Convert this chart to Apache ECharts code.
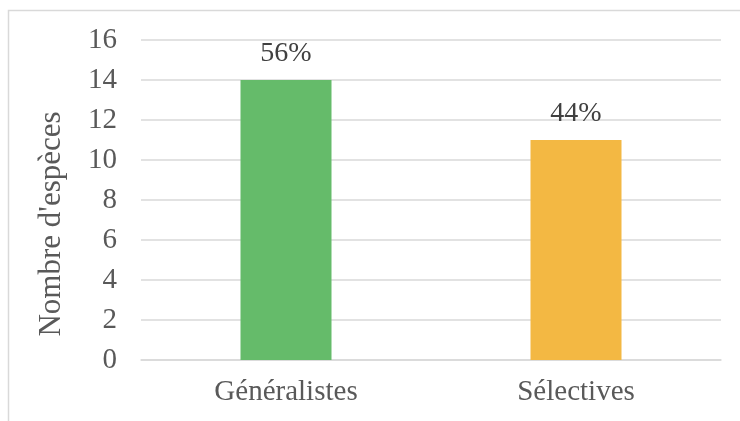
<!DOCTYPE html>
<html>
<head>
<meta charset="utf-8">
<script src="https://cdn.jsdelivr.net/npm/echarts@6/dist/echarts.min.js"></script>
<style>
  html, body { margin: 0; padding: 0; background: #ffffff; }
  #chart { width: 740px; height: 421px; }
</style>
</head>
<body>
<div id="chart"></div>
<script>
// Species counts by feeding strategy
const categories = ['Généralistes', 'Sélectives'];
const speciesCounts = [14, 11];
const barColors = ['#65BB6A', '#F3B843'];
const yTicks = { min: 0, max: 16, interval: 2 };
const yTitle = "Nombre d'espèces";

const total = speciesCounts.reduce((a, b) => a + b, 0);
const textColor = '#595959';
const fontFamily = '"Liberation Serif", "Times New Roman", serif';

const chart = echarts.init(document.getElementById('chart'), null, { renderer: 'canvas' });

chart.setOption({
  animation: false,
  backgroundColor: '#ffffff',
  graphic: [
    {
      type: 'rect',
      shape: { x: 8.5, y: 10.5, width: 760, height: 440 },
      style: { fill: 'none', stroke: '#d9d9d9', lineWidth: 1.5 },
      silent: true
    },
    {
      // vertical axis title
      type: 'text',
      x: 52,
      y: 224,
      rotation: Math.PI / 2,
      style: {
        text: yTitle,
        fill: textColor,
        font: '31px ' + fontFamily,
        align: 'center',
        verticalAlign: 'middle'
      },
      silent: true
    }
  ],
  grid: { left: 141, right: 19, top: 40, bottom: 61 },
  xAxis: {
    type: 'category',
    data: categories,
    axisLine: { show: true, lineStyle: { color: '#d9d9d9', width: 1.5 } },
    axisTick: { show: false },
    axisLabel: { color: textColor, fontFamily, fontSize: 29, margin: 18 }
  },
  yAxis: {
    type: 'value',
    min: yTicks.min,
    max: yTicks.max,
    interval: yTicks.interval,
    axisLine: { show: false },
    axisTick: { show: false },
    axisLabel: { color: textColor, fontFamily, fontSize: 29, margin: 24 },
    splitLine: { lineStyle: { color: '#d9d9d9', width: 1.5 } }
  },
  series: [{
    type: 'bar',
    barWidth: 91,
    data: speciesCounts.map((v, i) => ({ value: v, itemStyle: { color: barColors[i] } })),
    label: {
      show: true,
      position: 'top',
      distance: 12,
      color: '#404040',
      fontFamily,
      fontSize: 28,
      formatter: p => Math.round(p.value / total * 100) + '%'
    }
  }]
});
</script>
</body>
</html>
